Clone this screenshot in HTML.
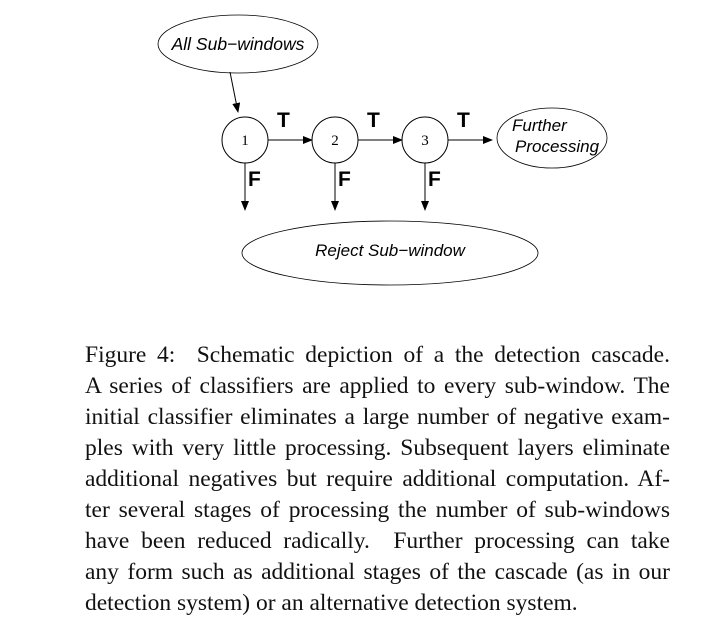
<!DOCTYPE html>
<html><head><meta charset="utf-8"><style>
body{margin:0;background:#fff;width:711px;height:632px;overflow:hidden;position:relative}
svg{position:absolute;left:0;top:0}
.cap{position:absolute;left:85px;top:340px;width:585px;font-family:"Liberation Serif",serif;font-size:23.5px;line-height:31px;color:#111}
.cap div{text-align:justify;text-align-last:justify;white-space:nowrap}
.cap div.last{text-align-last:left}
</style></head><body>
<svg width="711" height="632">
<defs><marker id="ah" markerWidth="10" markerHeight="8" refX="9" refY="4" orient="auto" markerUnits="userSpaceOnUse"><path d="M0,0 L10,4 L0,8 z" fill="#000"/></marker></defs>
<g fill="none" stroke="#000" stroke-width="1">
<ellipse cx="238" cy="44" rx="80" ry="29" stroke-width="0.8"/>
<ellipse cx="552" cy="138" rx="55" ry="30" stroke-width="0.8"/>
<ellipse cx="390" cy="253" rx="148" ry="32" stroke-width="0.8"/>
<circle cx="245" cy="140" r="23"/>
<circle cx="335" cy="140" r="23"/>
<circle cx="425" cy="140" r="23"/>
<line x1="230" y1="72" x2="238" y2="112" marker-end="url(#ah)"/>
<line x1="268" y1="140" x2="312" y2="140" marker-end="url(#ah)"/>
<line x1="358" y1="140" x2="402" y2="140" marker-end="url(#ah)"/>
<line x1="448" y1="140" x2="492" y2="140" marker-end="url(#ah)"/>
<line x1="245" y1="163" x2="245" y2="210" marker-end="url(#ah)"/>
<line x1="335" y1="163" x2="335" y2="210" marker-end="url(#ah)"/>
<line x1="425" y1="163" x2="425" y2="210" marker-end="url(#ah)"/>
</g>
<g font-family="Liberation Sans,sans-serif" font-style="italic" font-size="17" fill="#000">
<text x="238" y="50" text-anchor="middle" font-size="17.5">All Sub−windows</text>
<text x="512" y="131">Further</text>
<text x="515" y="152">Processing</text>
<text x="390" y="256" text-anchor="middle">Reject Sub−window</text>
</g>
<g font-family="Liberation Serif,serif" font-size="15" text-anchor="middle" fill="#000">
<text x="245" y="145">1</text>
<text x="335" y="145">2</text>
<text x="425" y="145">3</text>
</g>
<g font-family="Liberation Sans,sans-serif" font-weight="bold" font-size="21" fill="#000">
<text x="277" y="127">T</text>
<text x="367" y="127">T</text>
<text x="457" y="127">T</text>
<text x="248" y="186">F</text>
<text x="338" y="186">F</text>
<text x="428" y="186">F</text>
</g>
</svg>
<div class="cap">
<div>Figure 4: &nbsp;Schematic depiction of a the detection cascade.</div>
<div>A series of classifiers are applied to every sub-window. The</div>
<div>initial classifier eliminates a large number of negative exam-</div>
<div>ples with very little processing. Subsequent layers eliminate</div>
<div>additional negatives but require additional computation. Af-</div>
<div>ter several stages of processing the number of sub-windows</div>
<div>have been reduced radically. &nbsp;Further processing can take</div>
<div>any form such as additional stages of the cascade (as in our</div>
<div class="last">detection system) or an alternative detection system.</div>
</div>
</body></html>
